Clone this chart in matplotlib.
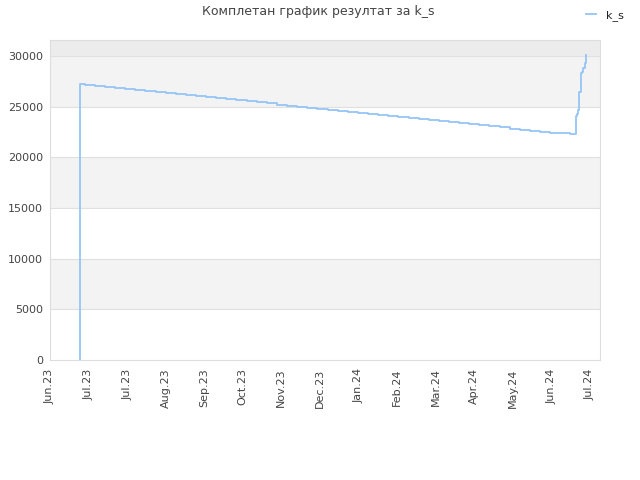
import matplotlib
matplotlib.use("Agg")
import matplotlib.pyplot as plt
import matplotlib.dates as mdates
import numpy as np
import pandas as pd

# series k_s
start_date = "2023-06-24"
step_values = [27300, 27190, 27090, 26990, 26880, 26780, 26680, 26570, 26470, 26370,
               26260, 26160, 26060, 25950, 25850, 25750, 25640, 25540, 25440, 25330,
               25230, 25130, 25020, 24920, 24820, 24710, 24610, 24510, 24400, 24300,
               24200, 24090, 23990, 23890, 23780, 23680, 23580, 23470, 23370, 23270,
               23160, 23060, 22960, 22850, 22750, 22650, 22540, 22440, 22380, 22330]
tail_dates = ["2024-07-14", "2024-07-15", "2024-07-16", "2024-07-17", "2024-07-18",
              "2024-07-19", "2024-07-20", "2024-07-21", "2024-07-22"]
tail_values = [24050, 24280, 24700, 26500, 28300, 28450, 28820, 29310, 30070]

title = "Комплетан график резултат за k_s"
series_name = "k_s"

step_dates = [pd.Timestamp(start_date)] + list(pd.date_range("2023-06-28", "2024-07-10", periods=len(step_values) - 1))
dates = [pd.Timestamp(start_date)] + step_dates + [pd.Timestamp(d) for d in tail_dates]
values = [0] + step_values + tail_values

fig = plt.figure(figsize=(6.4, 4.8), dpi=100)
ax = fig.add_axes([50 / 640, 1 - 360 / 480, 550 / 640, 320 / 480])

ymax = 31600
# alternating bands
for lo in range(0, 30000, 5000):
    if (lo // 5000) % 2 == 1:
        ax.axhspan(lo, lo + 5000, color="#f3f3f3", zorder=0, lw=0)
ax.axhspan(30000, ymax, color="#ececec", zorder=0, lw=0)
for yv in range(5000, 31000, 5000):
    ax.axhline(yv, color="#e0e0e0", lw=0.8, zorder=1)

line, = ax.plot(dates, values, drawstyle="steps-post", color="#94c5f5", lw=1.3, zorder=3)

x0 = pd.Timestamp("2023-06-01")
ax.set_xlim(x0, pd.Timestamp("2024-08-02"))
ax.set_ylim(0, ymax)
ticks = [x0 + pd.Timedelta(days=30 * k) for k in range(15)]
ax.set_xticks(ticks)
ax.xaxis.set_major_formatter(mdates.DateFormatter("%b.%y"))
ax.set_yticks(range(0, 30001, 5000))
ax.tick_params(axis="x", rotation=90, length=0, labelsize=8, colors="#444444", pad=6)
ax.tick_params(axis="y", length=0, labelsize=8, colors="#444444", pad=5)
for s in ax.spines.values():
    s.set_color("#dddddd")

fig.text(318 / 640, 1 - 12 / 480, title, ha="center", va="center", fontsize=9, color="#444444")
fig.legend([line], [series_name], loc="upper right", bbox_to_anchor=(0.99, 1.0),
           frameon=False, fontsize=8, handlelength=0.9, handletextpad=0.9,
           labelcolor="#222222")

fig.savefig("out.png", dpi=100, facecolor="white")
